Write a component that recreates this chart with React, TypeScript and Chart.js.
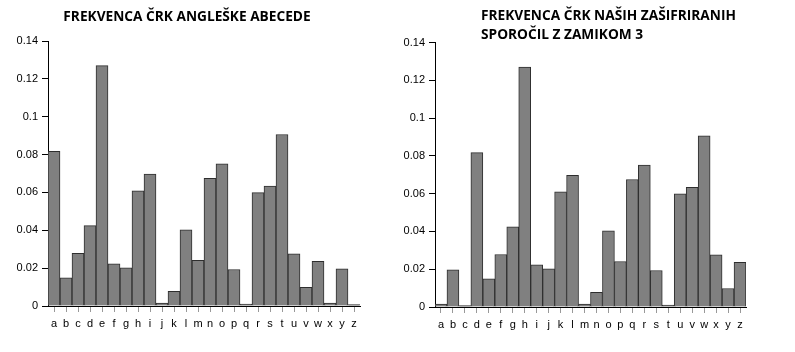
import React, { useEffect, useRef } from "react";
import { Chart, registerables } from "chart.js";

Chart.register(...registerables);

const letters = ["a","b","c","d","e","f","g","h","i","j","k","l","m","n","o","p","q","r","s","t","u","v","w","x","y","z"];

const englishFreq = [0.0817,0.0149,0.0278,0.0425,0.127,0.0223,0.0202,0.0609,0.0697,0.0015,0.0077,0.0403,0.0241,0.0675,0.0751,0.0193,0.001,0.0599,0.0633,0.0906,0.0276,0.0098,0.0236,0.0015,0.0197,0.0007];

const cipherFreq = [0.0015,0.0197,0.0007,0.0817,0.0149,0.0278,0.0425,0.127,0.0223,0.0202,0.0609,0.0697,0.0015,0.0077,0.0403,0.0241,0.0675,0.0751,0.0193,0.001,0.0599,0.0633,0.0906,0.0276,0.0098,0.0236];

const leftTitle = ["FREKVENCA ČRK ANGLEŠKE ABECEDE"];
const rightTitle = ["FREKVENCA ČRK NAŠIH ZAŠIFRIRANIH", "SPOROČIL Z ZAMIKOM 3"];

type Cfg = {
  values: number[];
  title: string[];
  titleAlign: "center" | "left";
  titleX: number;
  titleY: number;
  lineH: number;
  width: number;
  height: number;
  yAxisW: number;
  xAxisH: number;
  padTop: number;
  padRight: number;
};

function titlePlugin(cfg: Cfg) {
  return {
    id: "customTitle",
    afterDraw(chart: any) {
      const ctx = chart.ctx;
      ctx.save();
      ctx.font = "bold 13.7px 'Open Sans'";
      ctx.fillStyle = "#000";
      ctx.textBaseline = "middle";
      ctx.textAlign = cfg.titleAlign;
      cfg.title.forEach((line, i) => {
        ctx.fillText(line, cfg.titleX, cfg.titleY + i * cfg.lineH);
      });
      ctx.restore();
    },
  };
}

function BarChart({ cfg, left }: { cfg: Cfg; left: number }) {
  const ref = useRef<HTMLCanvasElement>(null);
  useEffect(() => {
    if (!ref.current) return;
    const chart = new Chart(ref.current, {
      type: "bar",
      data: {
        labels: letters,
        datasets: [
          {
            data: cfg.values,
            backgroundColor: "#808080",
            borderColor: "#2e2e2e",
            borderWidth: 1,
            barPercentage: 1,
            categoryPercentage: 1,
          },
        ],
      },
      options: {
        animation: false,
        responsive: false,
        devicePixelRatio: 1,
        layout: { padding: { top: cfg.padTop, right: cfg.padRight, left: 0, bottom: 0 } },
        plugins: { legend: { display: false }, title: { display: false }, tooltip: { enabled: false } },
        scales: {
          x: {
            afterFit: (s: any) => { s.height = cfg.xAxisH; },
            grid: { offset: false, drawOnChartArea: false, drawTicks: true, tickLength: 6, color: "#999999" },
            border: { display: true, color: "#000000", width: 1 },
            ticks: { color: "#000", font: { family: "'Liberation Sans'", size: 11 }, padding: 5, maxRotation: 0, autoSkip: false },
          },
          y: {
            min: 0,
            max: 0.14,
            afterFit: (s: any) => { s.width = cfg.yAxisW; },
            grid: { drawOnChartArea: false, drawTicks: true, tickLength: 6, color: "#000000" },
            border: { display: true, color: "#000000", width: 1 },
            ticks: {
              stepSize: 0.02,
              color: "#000",
              font: { family: "'Liberation Sans'", size: 11 },
              padding: 4,
              callback: (v: any) => String(Number(Number(v).toFixed(2))),
            },
          },
        },
      },
      plugins: [titlePlugin(cfg)],
    });
    return () => chart.destroy();
  }, []);
  return (
    <canvas
      ref={ref}
      width={cfg.width}
      height={cfg.height}
      style={{ position: "absolute", left, top: 0, width: cfg.width, height: cfg.height }}
    />
  );
}

const leftCfg: Cfg = {
  values: englishFreq,
  title: leftTitle,
  titleAlign: "center",
  titleX: 187,
  titleY: 16.7,
  lineH: 19,
  width: 380,
  height: 352,
  yAxisW: 48,
  xAxisH: 46,
  padTop: 41,
  padRight: 20,
};

const rightCfg: Cfg = {
  values: cipherFreq,
  title: rightTitle,
  titleAlign: "left",
  titleX: 101,
  titleY: 16.3,
  lineH: 19.2,
  width: 415,
  height: 352,
  yAxisW: 55,
  xAxisH: 45,
  padTop: 42.5,
  padRight: 49,
};

export default function App() {
  return (
    <div style={{ position: "absolute", left: 0, top: 0, width: 795, height: 352, background: "#fff" }}>
      <BarChart cfg={leftCfg} left={0} />
      <BarChart cfg={rightCfg} left={380} />
    </div>
  );
}
